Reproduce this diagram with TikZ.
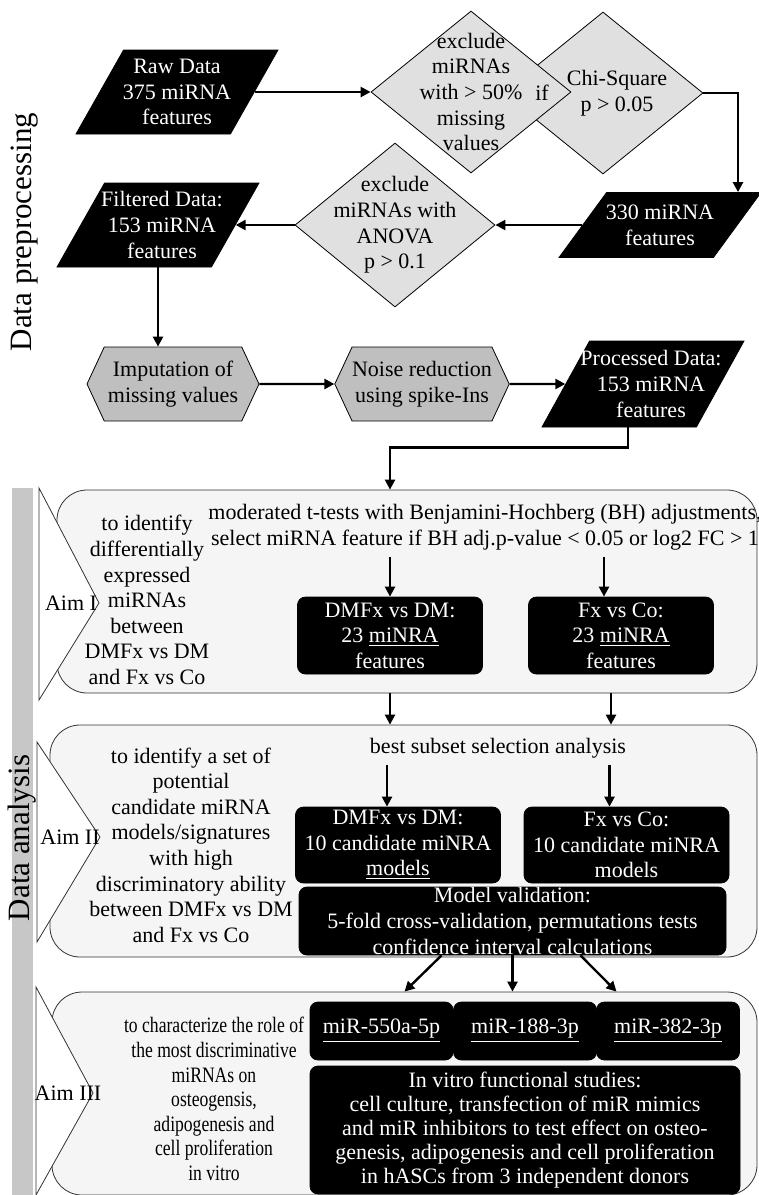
\documentclass[tikz,border=0pt]{standalone}
\usepackage{fontspec}
\setmainfont{Liberation Serif}
\newfontfamily\narrowserif[FakeStretch=0.8]{Liberation Serif}
\usetikzlibrary{shapes.geometric,shapes.symbols,arrows.meta}

\begin{document}
\begin{tikzpicture}
[
x=0.5pt, y=-0.5pt,
every node/.style={font=\fontsize{11}{12.8}\selectfont, align=center},
Dataset/.style={trapezium, trapezium left angle=66, trapezium right angle=114, trapezium stretches=true, draw=black, fill=black, inner sep=1pt, minimum width=101pt, minimum height=42pt},
Decision/.style={diamond, draw=black, fill=black!12, thin, inner sep=1pt, minimum width=100pt, minimum height=81pt},
Process/.style={signal, signal to=west and east, signal pointer angle=130, draw=black, fill=black!25, inner sep=0pt, minimum width=86pt, minimum height=37pt},
Aimbox/.style={rectangle, rounded corners=15pt, draw=black!80, fill=black!4, thin},
Aimtag/.style={draw=black!80, fill=white, thin},
Result/.style={rectangle, rounded corners=4pt, draw=black, fill=black, text=white, inner sep=0pt},
Arrow/.style={-{Triangle[length=5pt,width=5pt]}, line width=1.2pt},
Sidelabel/.style={rotate=90, font=\fontsize{15.5}{18}\selectfont},
]

\useasboundingbox (0,0) rectangle (759,1195);

% side bar and section labels
\fill[black!22] (12,488) rectangle (33,1195);
\node[Sidelabel] (prep) at (25,232) {Data preprocessing};
\node[Sidelabel] (anal) at (22,838) {Data analysis};

% preprocessing
\node[Dataset, label={[text=white]center:{Raw Data\\375 miRNA\\features}}] (raw) at (177,92) {};
\node[Decision, label={[xshift=7pt]center:{Chi-Square\\p > 0.05}}] (chi) at (603,93) {};
\node[Decision, label={center:{exclude\\miRNAs\\with > 50\%\\missing\\values}}] (excl) at (471,92) {};
\node (if) at (542,93) {if};
\node[Dataset, minimum height=32.5pt, label={[text=white]center:{330 miRNA\\features}}] (n330) at (660,225) {};
\node[Decision, minimum height=82pt, label={center:{exclude\\miRNAs with\\ANOVA\\p > 0.1}}] (anova) at (395,225) {};
\node[Dataset, label={[text=white, xshift=2pt]center:{Filtered Data:\\153 miRNA\\features}}] (filt) at (158,225) {};
\node[Process] (imput) at (173,384) {Imputation of\\missing values};
\node[Process] (noise) at (422,384) {Noise reduction\\using spike-Ins};
\node[Dataset, minimum height=43pt, label={[text=white, xshift=4pt]center:{Processed Data:\\153 miRNA\\features}}] (proc) at (643,384) {};

\draw[Arrow] (raw) -- (excl);
\draw[Arrow] (chi.east) -| ([xshift=39pt]n330.north);
\draw[Arrow] (n330.west) -- (anova.east);
\draw[Arrow] (anova.west) -- (filt.east);
\draw[Arrow] (filt.south) -- (filt.south |- imput.north);
\draw[Arrow] (imput) -- (noise);
\draw[Arrow] (noise) -- (proc);

% Aim I
\node[Aimbox, minimum width=350pt, minimum height=101.5pt] (aimI) at (407,591.5) {};
\draw[Aimtag] (39,488) -- (99,603) -- (39,700) -- cycle;
\node (tagI) at (71,603) {Aim I};
\node (goalI) at (147,600) {to identify\\differentially\\expressed\\miRNAs\\between\\DMFx vs DM\\and Fx vs Co};
\node (testI) at (485,527) {moderated t-tests with Benjamini-Hochberg (BH) adjustments,\\select miRNA feature if BH adj.p-value < 0.05 or log2 FC > 1};
\node[Result, minimum width=92.5pt, minimum height=38.5pt] (dmfxI) at (390,635.5) {DMFx vs DM:\\23 \underline{miNRA}\\features};
\node[Result, minimum width=92.5pt, minimum height=38.5pt] (fxcoI) at (621,635.5) {Fx vs Co:\\23 \underline{miNRA}\\features};

\draw[Arrow] ([xshift=-7.5pt]proc.south) -- ++(0,20) -| (dmfxI |- aimI.north);
\draw[Arrow] (dmfxI |- testI.south) -- (dmfxI);
\draw[Arrow] ([xshift=-8.5pt]fxcoI |- testI.south) -- ([xshift=-8.5pt]fxcoI.north);

% Aim II
\node[Aimbox, minimum width=353.5pt, minimum height=116pt] (aimII) at (403.5,841) {};
\draw[Aimtag] (37,742) -- (100,837) -- (37,942) -- cycle;
\node (tagII) at (70,837) {Aim II};
\node (goalII) at (191,845) {to identify a set of\\potential\\candidate miRNA\\models/signatures\\with high\\discriminatory ability\\between DMFx vs DM\\and Fx vs Co};
\node (subsetII) at (498,748) {best subset selection analysis};
\node[Result, minimum width=102.5pt, minimum height=38pt] (dmfxII) at (398,845) {DMFx vs DM:\\10 candidate miNRA\\\underline{models}};
\node[Result, minimum width=102.5pt, minimum height=38pt] (fxcoII) at (626.5,845) {Fx vs Co:\\10 candidate miNRA\\models};
\node[Result, minimum width=213.5pt, minimum height=34pt] (valid) at (512.5,921) {Model validation:\\5-fold cross-validation, permutations tests\\confidence interval calculations};

\draw[Arrow] (dmfxI |- aimI.south) -- (dmfxI |- aimII.north);
\draw[Arrow] ([xshift=-5pt]fxcoI |- aimI.south) -- ([xshift=-5pt]fxcoI |- aimII.north);
\draw[Arrow] ([xshift=-5.5pt]dmfxII |- subsetII.south) -- ([xshift=-5.5pt]dmfxII.north);
\draw[Arrow] ([xshift=-8.5pt]fxcoII |- subsetII.south) -- ([xshift=-8.5pt]fxcoII.north);

% Aim III
\node[Aimbox, minimum width=352.5pt, minimum height=101.5pt] (aimIII) at (404.5,1093.5) {};
\draw[Aimtag] (36,987) -- (93,1093) -- (36,1195) -- cycle;
\node (tagIII) at (68,1093) {Aim III};
\node[font=\narrowserif\fontsize{11}{12.3}\selectfont] (goalIII) at (214,1099) {to characterize the role of\\the most discriminative\\miRNAs on\\osteogensis,\\adipogenesis and\\cell proliferation\\in vitro};
\node[Result, minimum width=71.5pt, minimum height=29pt] (mirA) at (381.5,1031) {\underline{miR-550a-5p}};
\node[Result, minimum width=71.5pt, minimum height=29pt] (mirB) at (525,1031) {\underline{miR-188-3p}};
\node[Result, minimum width=71.5pt, minimum height=29pt] (mirC) at (668,1031) {\underline{miR-382-3p}};
\node[Result, minimum width=215pt, minimum height=64pt, font=\fontsize{11}{12}\selectfont] (vitro) at (525,1130) {In vitro functional studies:\\cell culture, transfection of miR mimics\\and miR inhibitors to test effect on osteo-\\genesis, adipogenesis and cell proliferation\\in hASCs from 3 independent donors};

\draw[Arrow] ([xshift=-35.5pt]valid.south) -- (aimIII.north);
\draw[Arrow] (valid.south) -- ([xshift=54pt]aimIII.north);
\draw[Arrow] ([xshift=34pt]valid.south) -- ([xshift=106pt]aimIII.north);

\end{tikzpicture}
\end{document}
